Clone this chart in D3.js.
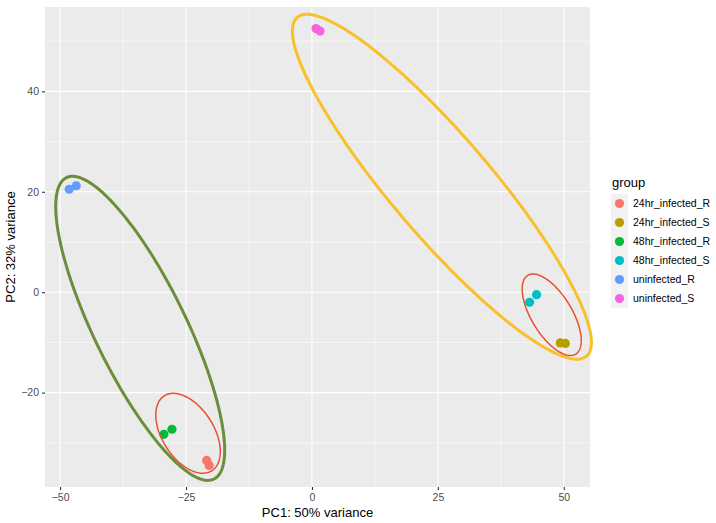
<!DOCTYPE html>
<html>
<head>
<meta charset="utf-8">
<script src="https://cdn.jsdelivr.net/npm/d3@7"></script>
<style>
  body { margin: 0; background: #fff; }
  svg { font-family: "Liberation Sans", Arial, sans-serif; }
</style>
</head>
<body>
<div id="pca"></div>
<script>
// sample scores
const groups = ["24hr_infected_R", "24hr_infected_S", "48hr_infected_R", "48hr_infected_S", "uninfected_R", "uninfected_S"];
const sampleGroup = ["uninfected_R", "uninfected_R", "48hr_infected_R", "48hr_infected_R", "24hr_infected_R", "24hr_infected_R",
                     "uninfected_S", "uninfected_S", "48hr_infected_S", "48hr_infected_S", "24hr_infected_S", "24hr_infected_S"];
const pc1 = [-48.2, -46.8, -29.4, -27.8, -20.9, -20.4, 0.8, 1.6, 43.2, 44.6, 49.3, 50.3];
const pc2 = [20.5, 21.2, -28.3, -27.3, -33.5, -34.5, 52.5, 52.0, -2.0, -0.5, -10.1, -10.2];

// hand drawn ellipses: centre, semi axes, angle (deg)
const ellCx = [-34.1, 25.8, -24.6, 47.6];
const ellCy = [-7.2, 21.0, -28.1, -4.5];
const ellA = [33.4, 44.3, 8.83, 9.17];
const ellB = [9.1, 9.9, 5.13, 4.02];
const ellAngle = [-64, -49.6, -57.8, -58.8];
const ellColor = ["#6B8E3A", "#F9C02A", "#E8502F", "#E8502F"];
const ellWidth = [3, 3, 1.5, 1.5];

const xTicks = [-50, -25, 0, 25, 50];
const yTicks = [-20, 0, 20, 40];
const xMinor = [-37.5, -12.5, 12.5, 37.5];
const yMinor = [-30, -10, 10, 30, 50];

const palette = ["#F8766D", "#B79F00", "#00BA38", "#00BFC4", "#619CFF", "#F564E3"];

const width = 716, height = 523;
const panel = { left: 45, right: 590, top: 7, bottom: 487 };

const x = d3.scaleLinear().domain([-53.0, 55.2]).range([panel.left, panel.right]);
const y = d3.scaleLinear().domain([-38.8, 56.8]).range([panel.bottom, panel.top]);
const color = d3.scaleOrdinal().domain(groups).range(palette);
const fmt = d => d3.format("d")(d).replace("-", "\u2212");

const svg = d3.select("#pca").append("svg")
    .attr("width", width)
    .attr("height", height);

svg.append("rect")
    .attr("x", panel.left).attr("y", panel.top)
    .attr("width", panel.right - panel.left)
    .attr("height", panel.bottom - panel.top)
    .attr("fill", "#EBEBEB");

const grid = svg.append("g");
grid.selectAll(".xminor").data(xMinor).join("line")
    .attr("x1", d => x(d)).attr("x2", d => x(d))
    .attr("y1", panel.top).attr("y2", panel.bottom)
    .attr("stroke", "#fff").attr("stroke-width", 0.55);
grid.selectAll(".yminor").data(yMinor).join("line")
    .attr("y1", d => y(d)).attr("y2", d => y(d))
    .attr("x1", panel.left).attr("x2", panel.right)
    .attr("stroke", "#fff").attr("stroke-width", 0.55);
grid.selectAll(".xmajor").data(xTicks).join("line")
    .attr("x1", d => x(d)).attr("x2", d => x(d))
    .attr("y1", panel.top).attr("y2", panel.bottom)
    .attr("stroke", "#fff").attr("stroke-width", 1.1);
grid.selectAll(".ymajor").data(yTicks).join("line")
    .attr("y1", d => y(d)).attr("y2", d => y(d))
    .attr("x1", panel.left).attr("x2", panel.right)
    .attr("stroke", "#fff").attr("stroke-width", 1.1);

// axes
const xAxis = svg.append("g")
    .attr("transform", `translate(0,${panel.bottom})`)
    .call(d3.axisBottom(x).tickValues(xTicks).tickFormat(fmt).tickSize(3).tickPadding(4));
const yAxis = svg.append("g")
    .attr("transform", `translate(${panel.left},0)`)
    .call(d3.axisLeft(y).tickValues(yTicks).tickFormat(fmt).tickSize(3).tickPadding(3));
[xAxis, yAxis].forEach(a => {
    a.select(".domain").remove();
    a.selectAll(".tick line").attr("stroke", "#333333").attr("stroke-width", 1.1);
    a.selectAll(".tick text").attr("fill", "#4D4D4D")
        .style("font-size", "10.5px")
        .style("font-family", "'Liberation Sans', Arial, sans-serif");
});

// points
const samples = pc1.map((v, i) => ({ pc1: v, pc2: pc2[i], group: sampleGroup[i] }));
svg.append("g").selectAll("circle")
    .data(samples)
    .join("circle")
    .attr("cx", d => x(d.pc1))
    .attr("cy", d => y(d.pc2))
    .attr("r", 4.6)
    .attr("fill", d => color(d.group));

// ellipses
const line = d3.line().x(p => x(p[0])).y(p => y(p[1])).curve(d3.curveLinearClosed);
const ellipses = ellCx.map((cx, i) => {
    const t = ellAngle[i] * Math.PI / 180;
    return d3.range(0, 360, 2).map(deg => {
        const u = deg * Math.PI / 180;
        const ex = ellA[i] * Math.cos(u), ey = ellB[i] * Math.sin(u);
        return [cx + ex * Math.cos(t) - ey * Math.sin(t), ellCy[i] + ex * Math.sin(t) + ey * Math.cos(t)];
    });
});
svg.append("g").selectAll("path")
    .data(ellipses)
    .join("path")
    .attr("d", line)
    .attr("fill", "none")
    .attr("stroke", (d, i) => ellColor[i])
    .attr("stroke-width", (d, i) => ellWidth[i]);

// axis titles
svg.append("text")
    .attr("x", (panel.left + panel.right) / 2)
    .attr("y", 517)
    .attr("text-anchor", "middle")
    .style("font-size", "13px")
    .text("PC1: 50% variance");
svg.append("text")
    .attr("transform", `translate(15,${(panel.top + panel.bottom) / 2}) rotate(-90)`)
    .attr("text-anchor", "middle")
    .style("font-size", "13px")
    .text("PC2: 32% variance");

// legend
const legend = svg.append("g").attr("transform", "translate(611,0)");
legend.append("text")
    .attr("x", 1).attr("y", 187)
    .style("font-size", "13px")
    .text("group");
const item = legend.selectAll(".item")
    .data(groups)
    .join("g")
    .attr("transform", (d, i) => `translate(0,${194 + i * 19})`);
item.append("rect")
    .attr("width", 17).attr("height", 19)
    .attr("fill", "#F2F2F2");
item.append("circle")
    .attr("cx", 8.5).attr("cy", 9.5).attr("r", 4.6)
    .attr("fill", d => color(d));
item.append("text")
    .attr("x", 22).attr("y", 9.5).attr("dy", "0.35em")
    .style("font-size", "10.5px")
    .text(d => d);
</script>
</body>
</html>
